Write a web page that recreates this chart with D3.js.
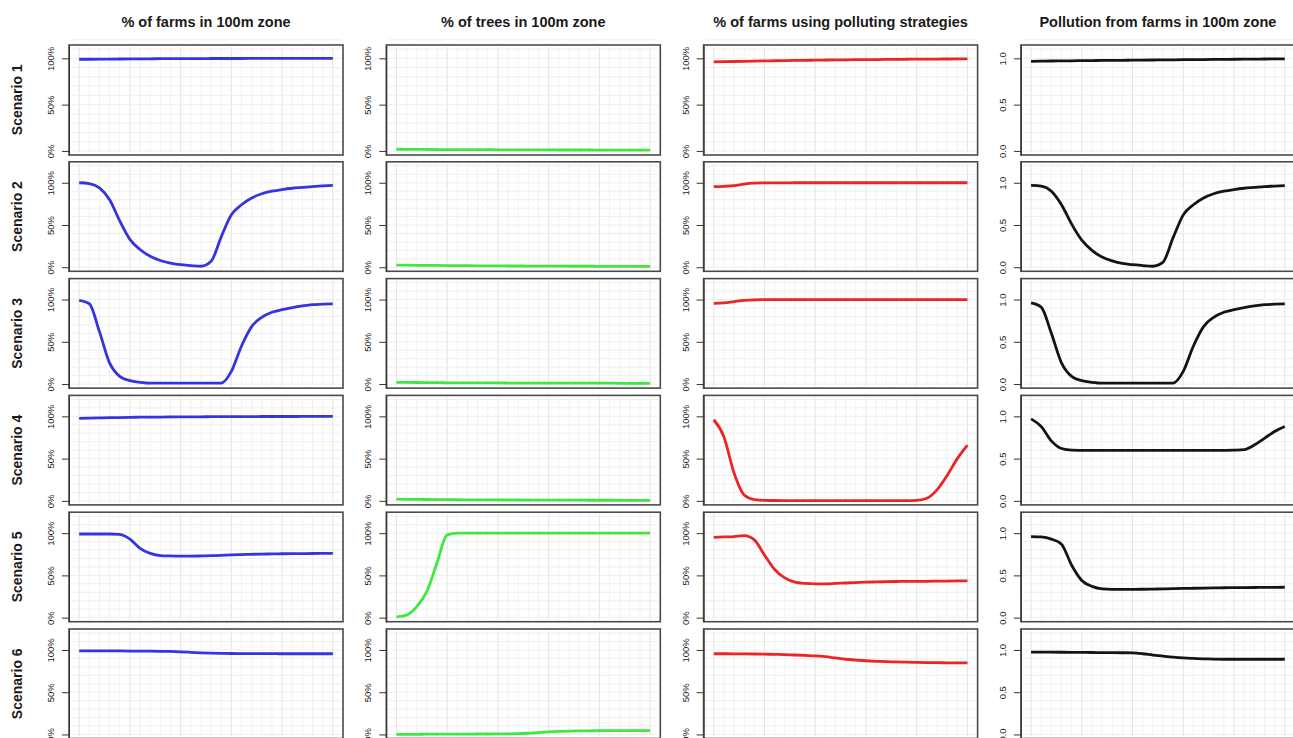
<!DOCTYPE html>
<html>
<head>
<meta charset="utf-8">
<script src="https://cdn.jsdelivr.net/npm/d3@7"></script>
<style>
  body { margin: 0; background: #fff; }
  text { font-family: "Liberation Sans", Arial, sans-serif; }
</style>
</head>
<body>
<div id="chart"></div>
<script>
// time steps (model iterations)
var steps = [0,4,8,12,16,20,24,28,32,36,40,44,48,52,56,60,64,68,72,76,80,84,88,92,96,100];

var columns = ["% of farms in 100m zone", "% of trees in 100m zone",
               "% of farms using polluting strategies", "Pollution from farms in 100m zone"];
var scenarios = ["Scenario 1","Scenario 2","Scenario 3","Scenario 4","Scenario 5","Scenario 6"];
var lineColors = ["#3434e0", "#3ee83e", "#ec2424", "#141414"];

// scenario 1
var s1Farms = [0.99,0.99,0.991,0.992,0.993,0.994,0.995,0.995,0.996,0.996,0.997,0.997,0.997,0.998,0.998,0.998,0.998,0.999,0.999,0.999,0.999,0.999,1,1,1,1];
var s1Trees = [0.018,0.017,0.016,0.016,0.015,0.015,0.014,0.014,0.013,0.013,0.012,0.012,0.012,0.011,0.011,0.011,0.01,0.01,0.01,0.01,0.009,0.009,0.009,0.009,0.008,0.008];
var s1Poll = [0.962,0.964,0.966,0.968,0.97,0.972,0.974,0.976,0.977,0.979,0.98,0.982,0.983,0.984,0.985,0.986,0.987,0.988,0.989,0.99,0.991,0.992,0.992,0.993,0.994,0.995];
var s1Pollution = [0.968,0.969,0.971,0.972,0.973,0.975,0.976,0.977,0.978,0.979,0.98,0.981,0.982,0.983,0.984,0.985,0.986,0.987,0.988,0.989,0.99,0.991,0.992,0.993,0.994,0.995];

// scenario 2
var s2Farms = [1,0.99,0.94,0.8,0.55,0.33,0.21,0.13,0.08,0.05,0.03,0.02,0.012,0.07,0.36,0.62,0.74,0.82,0.87,0.9,0.92,0.935,0.945,0.955,0.962,0.97];
var s2Trees = [0.025,0.024,0.023,0.022,0.021,0.02,0.019,0.018,0.017,0.016,0.016,0.015,0.015,0.014,0.014,0.013,0.013,0.012,0.012,0.012,0.011,0.011,0.011,0.01,0.01,0.01];
var s2Poll = [0.955,0.958,0.965,0.985,0.995,0.998,0.999,0.999,1,1,1,1,1,1,1,1,1,1,1,1,1,1,1,1,1,1];
var s2Pollution = [0.97,0.96,0.9,0.74,0.51,0.32,0.2,0.12,0.075,0.045,0.03,0.02,0.012,0.06,0.35,0.62,0.74,0.82,0.87,0.9,0.92,0.935,0.945,0.955,0.96,0.965];

// scenario 3
var s3Farms = [0.99,0.95,0.62,0.25,0.09,0.04,0.02,0.01,0.01,0.01,0.01,0.01,0.01,0.01,0.012,0.15,0.45,0.68,0.79,0.85,0.88,0.905,0.925,0.94,0.945,0.95];
var s3Trees = [0.02,0.019,0.018,0.017,0.016,0.015,0.015,0.014,0.014,0.013,0.013,0.012,0.012,0.012,0.011,0.011,0.011,0.01,0.01,0.01,0.01,0.01,0.009,0.009,0.009,0.009];
var s3Poll = [0.955,0.96,0.975,0.99,0.997,0.999,1,1,1,1,1,1,1,1,1,1,1,1,1,1,1,1,1,1,1,1];
var s3Pollution = [0.96,0.91,0.6,0.25,0.09,0.04,0.02,0.01,0.01,0.01,0.01,0.01,0.01,0.01,0.012,0.15,0.45,0.68,0.79,0.85,0.88,0.905,0.925,0.94,0.945,0.95];

// scenario 4
var s4Farms = [0.975,0.978,0.981,0.984,0.986,0.988,0.99,0.991,0.992,0.993,0.994,0.995,0.995,0.996,0.996,0.997,0.997,0.997,0.998,0.998,0.998,0.998,0.999,0.999,0.999,0.999];
var s4Trees = [0.02,0.018,0.017,0.016,0.015,0.014,0.013,0.012,0.012,0.011,0.011,0.01,0.01,0.009,0.009,0.009,0.008,0.008,0.008,0.007,0.007,0.007,0.006,0.006,0.006,0.006];
var s4Poll = [0.96,0.76,0.33,0.07,0.015,0.005,0.004,0.003,0.003,0.003,0.003,0.003,0.003,0.003,0.003,0.003,0.003,0.003,0.003,0.003,0.005,0.03,0.13,0.3,0.5,0.66];
var s4Pollution = [0.97,0.88,0.71,0.62,0.6,0.598,0.597,0.597,0.597,0.597,0.597,0.597,0.597,0.597,0.597,0.597,0.597,0.597,0.597,0.598,0.6,0.605,0.66,0.74,0.82,0.88];

// scenario 5
var s5Farms = [0.99,0.99,0.99,0.99,0.985,0.93,0.82,0.76,0.735,0.73,0.728,0.728,0.73,0.733,0.737,0.742,0.746,0.75,0.752,0.754,0.756,0.757,0.758,0.759,0.76,0.76];
var s5Trees = [0.01,0.03,0.13,0.31,0.65,0.98,1,1,1,1,1,1,1,1,1,1,1,1,1,1,1,1,1,1,1,1];
var s5Poll = [0.95,0.955,0.96,0.97,0.92,0.74,0.57,0.47,0.42,0.405,0.4,0.4,0.405,0.41,0.415,0.42,0.423,0.426,0.428,0.43,0.43,0.43,0.432,0.433,0.434,0.435];
var s5Pollution = [0.96,0.955,0.93,0.87,0.62,0.44,0.37,0.34,0.335,0.335,0.335,0.336,0.338,0.34,0.343,0.346,0.348,0.35,0.352,0.354,0.355,0.356,0.357,0.358,0.359,0.36];

// scenario 6
var s6Farms = [0.99,0.99,0.99,0.99,0.988,0.987,0.986,0.985,0.984,0.982,0.978,0.972,0.966,0.962,0.96,0.958,0.957,0.956,0.956,0.956,0.955,0.955,0.955,0.955,0.955,0.955];
var s6Trees = [0.002,0.002,0.002,0.003,0.003,0.003,0.004,0.004,0.005,0.005,0.006,0.007,0.009,0.014,0.022,0.03,0.036,0.04,0.042,0.043,0.044,0.045,0.045,0.046,0.046,0.046];
var s6Poll = [0.955,0.955,0.954,0.953,0.952,0.95,0.948,0.945,0.94,0.935,0.93,0.92,0.905,0.89,0.88,0.872,0.866,0.862,0.858,0.855,0.852,0.85,0.849,0.848,0.847,0.846];
var s6Pollution = [0.975,0.975,0.974,0.973,0.972,0.971,0.97,0.969,0.968,0.967,0.965,0.955,0.94,0.927,0.915,0.906,0.9,0.895,0.892,0.89,0.89,0.89,0.89,0.89,0.89,0.89];

var grid = [
  [s1Farms, s1Trees, s1Poll, s1Pollution],
  [s2Farms, s2Trees, s2Poll, s2Pollution],
  [s3Farms, s3Trees, s3Poll, s3Pollution],
  [s4Farms, s4Trees, s4Poll, s4Pollution],
  [s5Farms, s5Trees, s5Poll, s5Pollution],
  [s6Farms, s6Trees, s6Poll, s6Pollution]
];

var yTicks = [0, 0.5, 1];
var pctLabels = ["0%", "50%", "100%"];
var numLabels = ["0.0", "0.5", "1.0"];

//Width and height
var W = 1293, H = 738;
var panelW = 274, panelH = 109.5;
var colX = function (i) { return 69 + i * 317.3; };
var rowY = function (j) { return 45 + j * 116.8; };

var svg = d3.select("#chart").append("svg")
  .attr("width", W).attr("height", H);

var x = d3.scaleLinear().domain([-4, 104]).range([0, panelW]);

// column titles
svg.selectAll("text.coltitle")
  .data(columns)
  .enter().append("text")
  .attr("class", "coltitle")
  .attr("x", function (d, i) { return colX(i) + panelW / 2; })
  .attr("y", 27)
  .attr("text-anchor", "middle")
  .attr("font-size", 14.5)
  .attr("font-weight", "bold")
  .attr("fill", "#1a1a1a")
  .text(function (d) { return d; });

// row labels
svg.selectAll("text.rowlab")
  .data(scenarios)
  .enter().append("text")
  .attr("class", "rowlab")
  .attr("transform", function (d, j) { return "translate(22," + (rowY(j) + panelH / 2) + ") rotate(-90)"; })
  .attr("text-anchor", "middle")
  .attr("font-size", 14)
  .attr("font-weight", "bold")
  .attr("fill", "#1a1a1a")
  .text(function (d) { return d; });

grid.forEach(function (row, j) {
  // first row uses a slightly shorter y range
  var ph = j === 0 ? 110 : panelH;
  var y = d3.scaleLinear()
    .domain(j === 0 ? [-0.044, 1.144] : [-0.048, 1.248])
    .range([ph, 0]);

  row.forEach(function (vals, i) {
    var g = svg.append("g")
      .attr("transform", "translate(" + colX(i) + "," + rowY(j) + ")");

    // faint grid
    var vmin = d3.range(0, 101, 4);
    g.selectAll("line.vg").data(vmin).enter().append("line")
      .attr("x1", function (d) { return x(d); }).attr("x2", function (d) { return x(d); })
      .attr("y1", 2).attr("y2", ph - 2)
      .attr("stroke", function (d) { return d % 20 === 0 ? "#e3e3e3" : "#f1f1f1"; })
      .attr("stroke-width", 1);
    var hmin = d3.range(0, 1.21, 0.1);
    g.selectAll("line.hg").data(hmin).enter().append("line")
      .attr("x1", 2).attr("x2", panelW - 2)
      .attr("y1", function (d) { return y(d); }).attr("y2", function (d) { return y(d); })
      .attr("stroke", "#efefef")
      .attr("stroke-width", 1);

    // series line
    var line = d3.line()
      .x(function (d, k) { return x(steps[k]); })
      .y(function (d) { return y(d); })
      .curve(d3.curveMonotoneX);
    g.append("path")
      .datum(vals)
      .attr("d", line)
      .attr("fill", "none")
      .attr("stroke", lineColors[i])
      .attr("stroke-width", 2.8)
      .attr("stroke-linejoin", "round");

    // box
    g.append("rect")
      .attr("width", panelW).attr("height", ph)
      .attr("fill", "none")
      .attr("stroke", "#4a4a4a")
      .attr("stroke-width", 1.6);

    // y axis
    var labels = i === 3 ? numLabels : pctLabels;
    var ax = g.append("g")
      .call(d3.axisLeft(y).tickValues(yTicks).tickSize(7).tickSizeOuter(0)
        .tickFormat(function (d, k) { return labels[k]; }));
    ax.select(".domain").attr("stroke", "#333");
    ax.selectAll(".tick line").attr("stroke", "#333");
    ax.selectAll(".tick text")
      .attr("transform", "rotate(-90)")
      .attr("x", 0).attr("y", -15).attr("dy", 0)
      .attr("text-anchor", "middle")
      .attr("font-size", 9.5)
      .attr("font-family", "Liberation Sans, Arial, sans-serif")
      .attr("fill", "#222");
  });
});
</script>
</body>
</html>
